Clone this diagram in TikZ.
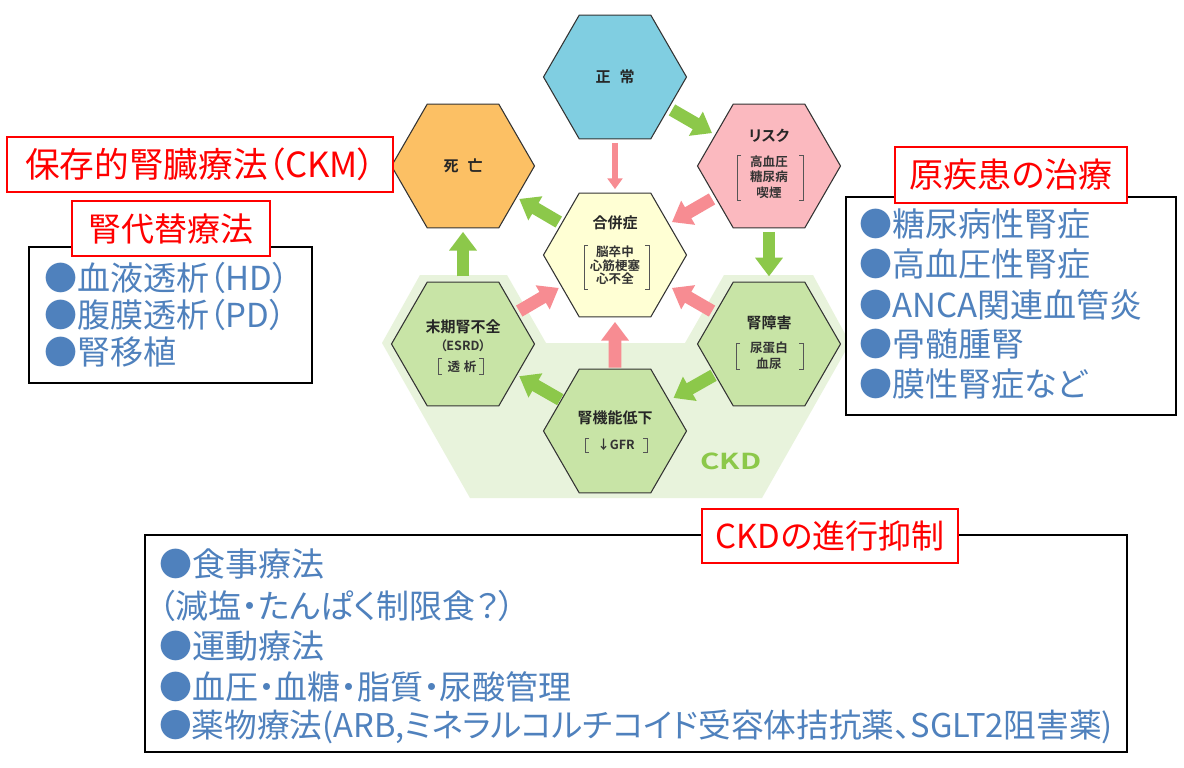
\documentclass[tikz,border=0pt]{standalone}
\usepackage{fontspec}
\setmainfont{Noto Sans CJK JP}[BoldFont={Noto Sans CJK JP Bold},RawFeature=+palt]
\usetikzlibrary{shapes.geometric,arrows.meta,calc}
\definecolor{hexblue}{HTML}{80CEE1}
\definecolor{hexorange}{HTML}{FCC064}
\definecolor{hexpink}{HTML}{FBB9BF}
\definecolor{hexyellow}{HTML}{FFFFD4}
\definecolor{hexgreen}{HTML}{C8E4A6}
\definecolor{ckdbg}{HTML}{E8F3DC}
\definecolor{arrgreen}{HTML}{8CC84A}
\definecolor{arrpink}{HTML}{F78C92}
\definecolor{listblue}{HTML}{4F81BD}
\definecolor{hexline}{HTML}{333333}
\definecolor{brkgray}{HTML}{555555}
\newcommand{\jfs}[1]{\fontsize{#1}{#1}\selectfont}
\newcommand{\jfsl}[2]{\fontsize{#1}{#2}\selectfont}
\newcommand{\hexbrk}[4]{%
  \draw[brk] (#1+4,#3) -- (#1,#3) -- (#1,#4) -- (#1+4,#4);
  \draw[brk] (#2-4,#3) -- (#2,#3) -- (#2,#4) -- (#2-4,#4);}
\begin{document}
\begin{tikzpicture}[x=0.75pt,y=-0.75pt,
  hexnode/.style={regular polygon, regular polygon sides=6, minimum size=107.25pt,
    inner sep=0pt, outer sep=0pt, draw=hexline, line width=0.8pt},
  hextitle/.style={font=\bfseries\jfs{11.25}, inner sep=0pt, text=black!85},
  hexsub/.style={font=\bfseries\jfs{9.4}, inner sep=0pt, align=center, text=black!80},
  garrow/.style={draw=arrgreen, line width=9.5pt, -{Triangle[width=20pt,length=14pt]}},
  parrow/.style={draw=arrpink, line width=9.5pt, -{Triangle[width=20pt,length=14pt]}},
  pthin/.style={draw=arrpink, line width=4.5pt, -{Triangle[width=11pt,length=8pt]}},
  redbox/.style={draw=red, line width=1.5pt, fill=white, inner sep=0pt, text=red},
  blackbox/.style={draw=black, line width=1.1pt, fill=white, inner sep=0pt},
  item/.style={anchor=west, inner sep=0pt, text=listblue},
  brk/.style={draw=brkgray, line width=0.7pt}]
\useasboundingbox (0,0) rectangle (1184,767);
\fill[white] (0,0) rectangle (1184,767);

% CKD background
\fill[ckdbg] (382,343) -- (420,275) -- (507,275) -- (546,343) -- (685,343) -- (724,275)
  -- (813,275) -- (850,343) -- (762,498) -- (470,498) -- cycle;
\node[font=\bfseries\jfs{16.5}, text=arrgreen, inner sep=0pt] (ckd) at (731,461) {\scalebox{1.35}[1]{CKD}};

% hexagons
\node[hexnode, fill=hexblue]   (normal) at (615,77) {};
\node[hexnode, fill=hexorange] (death)  at (463,166) {};
\node[hexnode, fill=hexpink]   (risk)   at (769,166) {};
\node[hexnode, fill=hexyellow] (comp)   at (615,255) {};
\node[hexnode, fill=hexgreen]  (esrd)   at (463,344) {};
\node[hexnode, fill=hexgreen]  (damage) at (769,344) {};
\node[hexnode, fill=hexgreen]  (gfr)    at (615,431) {};

% hexagon texts
\node[hextitle] (t-normal) at (615,77) {正\hspace{0.6em}常};
\node[hextitle] (t-death) at (463,166) {死\hspace{0.6em}亡};
\node[hextitle] (t-risk) at (769,136) {リスク};
\node[hexsub, font=\bfseries\jfsl{9.4}{11.6}] (s-risk) at (769,177) {高血圧\\糖尿病\\喫煙};
\hexbrk{737}{803}{155}{200}
\node[hextitle] (t-comp) at (615,223) {合併症};
\node[hexsub, font=\bfseries\jfsl{9.4}{10.2}] (s-comp) at (615,265.5) {脳卒中\\心筋梗塞\\心不全};
\hexbrk{584}{649}{245}{289}
\node[hextitle] (t-esrd) at (463,327) {末期腎不全};
\node[hexsub] (s-esrd1) at (463,346) {（ESRD）};
\node[hexsub] (s-esrd2) at (462,366.5) {透\hspace{0.3em}析};
\hexbrk{438}{483}{358}{374}
\node[hextitle] (t-damage) at (769,323) {腎障害};
\node[hexsub, font=\bfseries\jfsl{9.4}{12}] (s-damage) at (769,356) {尿蛋白\\血尿};
\hexbrk{736}{803}{343}{369}
\node[hextitle] (t-gfr) at (615,418) {腎機能低下};
\node[hexsub] (s-gfr) at (616,445) {↓GFR};
\hexbrk{585}{647}{438}{452}

% arrows
\draw[garrow] ($(normal.center)!0.37!(risk.center)$) -- ($(normal.center)!0.63!(risk.center)$);
\draw[pthin]  ($(normal.center)!0.37!(comp.center)$) -- ($(normal.center)!0.63!(comp.center)$);
\draw[parrow] ($(risk.center)!0.37!(comp.center)$) -- ($(risk.center)!0.63!(comp.center)$);
\draw[garrow] ($(comp.center)!0.37!(death.center)$) -- ($(comp.center)!0.63!(death.center)$);
\draw[garrow] ($(risk.center)!0.37!(damage.center)$) -- ($(risk.center)!0.62!(damage.center)$);
\draw[garrow] ($(esrd.center)!0.38!(death.center)$) -- ($(esrd.center)!0.63!(death.center)$);
\draw[parrow] ($(esrd.center)!0.37!(comp.center)$) -- ($(esrd.center)!0.63!(comp.center)$);
\draw[parrow] ($(damage.center)!0.37!(comp.center)$) -- ($(damage.center)!0.63!(comp.center)$);
\draw[parrow] ($(gfr.center)!0.36!(comp.center)$) -- ($(gfr.center)!0.62!(comp.center)$);
\draw[garrow] ($(gfr.center)!0.36!(esrd.center)$) -- ($(gfr.center)!0.63!(esrd.center)$);
\draw[garrow] ($(damage.center)!0.36!(gfr.center)$) -- ($(damage.center)!0.62!(gfr.center)$);

% left boxes
\node[redbox, minimum width=289.5pt, minimum height=41.25pt, font=\jfs{26}] (ckm) at (200,164.5) {保存的腎臓療法（CKM）};
\node[blackbox, minimum width=212.25pt, minimum height=102pt] (rrtbox) at (170.5,315) {};
\node[redbox, minimum width=148.5pt, minimum height=41.25pt, font=\jfs{24.75}] (rrt) at (171,228.5) {腎代替療法};
\node[item, font=\jfs{24.75}] (rrt1) at (44,278) {●血液透析（HD）};
\node[item, font=\jfs{24.75}] (rrt2) at (44,315) {●腹膜透析（PD）};
\node[item, font=\jfs{24.75}] (rrt3) at (44,352) {●腎移植};

% right boxes
\node[blackbox, minimum width=247.5pt, minimum height=163.5pt] (causebox) at (1011,306) {};
\node[redbox, minimum width=174pt, minimum height=42pt, font=\jfs{25.5}] (cause) at (1011,175) {原疾患の治療};
\node[item, font=\jfs{24.75}] (c1) at (859,224) {●糖尿病性腎症};
\node[item, font=\jfs{24.75}] (c2) at (859,264) {●高血圧性腎症};
\node[item, font=\jfs{24.75}] (c3) at (859,305) {●ANCA関連血管炎};
\node[item, font=\jfs{24.75}] (c4) at (859,344) {●骨髄腫腎};
\node[item, font=\jfs{24.75}] (c5) at (859,384) {●膜性腎症など};

% bottom boxes
\node[blackbox, minimum width=736.5pt, minimum height=162.75pt] (ckdbox) at (636,643.5) {};
\node[redbox, minimum width=192pt, minimum height=40.5pt, font=\jfs{24.75}] (ckdprog) at (830,536) {CKDの進行抑制};
\node[item, font=\jfs{24.75}] (b1) at (159,564) {●食事療法};
\node[item, font=\jfs{24.75}] (b2) at (159,606) {（減塩・たんぱく制限食？）};
\node[item, font=\jfs{24.75}] (b3) at (159,646) {●運動療法};
\node[item, font=\jfs{24.75}] (b4) at (159,687) {●血圧・血糖・脂質・尿酸管理};
\node[item, font=\jfs{24.5}] (b5) at (159,727) {●薬物療法(ARB,ミネラルコルチコイド受容体拮抗薬、SGLT2阻害薬)};
\end{tikzpicture}
\end{document}
